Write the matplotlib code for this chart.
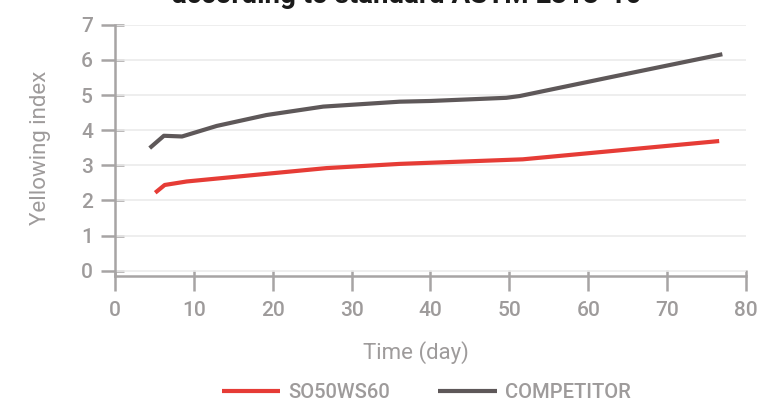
import numpy as np
import matplotlib.pyplot as plt

# valeurs
days_so = [5.1, 6.3, 9.1, 17.9, 26.8, 36.1, 51.7, 76.6]
yi_so = [2.22, 2.44, 2.54, 2.73, 2.92, 3.04, 3.17, 3.69]

days_comp = [4.4, 6.2, 8.5, 12.9, 19.2, 26.4, 36.1, 40.0, 49.6, 51.3, 63.1, 77.0]
yi_comp = [3.49, 3.84, 3.82, 4.12, 4.43, 4.67, 4.81, 4.83, 4.92, 4.97, 5.52, 6.16]

xticks = [0, 10, 20, 30, 40, 50, 60, 70, 80]
yticks = [0, 1, 2, 3, 4, 5, 6, 7]

red = '#E63C36'
dark = '#5E5859'
axis_col = '#A7A4A4'
txt_col = '#9E9B9B'

plt.rcParams['font.family'] = ['Roboto', 'DejaVu Sans']

fig = plt.figure(figsize=(7.61, 4.03), dpi=100)
ax = fig.add_axes([0.1511, 0.3151, 0.8292, 0.6236])

ax.plot(days_so, yi_so, color=red, lw=3, label='SO50WS60', solid_capstyle='butt')
ax.plot(days_comp, yi_comp, color=dark, lw=3, label='COMPETITOR', solid_capstyle='butt')

ax.set_xlim(0, 80)
ax.set_ylim(-0.15, 7)
ax.set_xticks(xticks)
ax.set_yticks(yticks)
ax.yaxis.grid(True, color='#EBEBEB', lw=1.2)
ax.set_axisbelow(True)

for s in ['top', 'right']:
    ax.spines[s].set_visible(False)
for s in ['left', 'bottom']:
    ax.spines[s].set_color(axis_col)
    ax.spines[s].set_linewidth(1.8)

ax.tick_params(axis='x', direction='out', length=11, width=1.8, color=axis_col,
               labelcolor=txt_col, labelsize=15, pad=7)
ax.tick_params(axis='y', direction='out', length=10, width=1.8, color=axis_col,
               labelcolor=txt_col, labelsize=15, pad=6)
for lab in ax.get_xticklabels() + ax.get_yticklabels():
    lab.set_fontweight('medium')

# partie interieure des graduations
sx = ax.secondary_xaxis('bottom')
sx.set_xticks(xticks)
sx.tick_params(direction='in', length=4.5, width=1.8, color=axis_col, labelbottom=False)
sx.spines['bottom'].set_visible(False)
sy = ax.secondary_yaxis('left')
sy.set_yticks(yticks)
sy.tick_params(direction='in', length=6.5, width=1.8, color=axis_col, labelleft=False)
sy.spines['left'].set_visible(False)

fig.text(0.546, 0.125, 'Time (day)', ha='center', va='center', color=txt_col,
         fontsize=16)
fig.text(0.053, 0.633, 'Yellowing index', ha='center', va='center', rotation=90,
         color=txt_col, fontsize=16)

# titre coupe en haut comme sur l'original
fig.text(0.535, 0.993, 'according to standard ASTM E313-10', ha='center', va='baseline',
         fontsize=20, fontweight='bold', color='#1a1a1a')

leg = fig.legend(loc='center', bbox_to_anchor=(0.56, 0.025), ncol=2, frameon=False,
                 fontsize=14.5, handlelength=2.9, handletextpad=0.4, columnspacing=2.4)
for t in leg.get_texts():
    t.set_color(txt_col)
    t.set_fontweight('medium')
for l in leg.get_lines():
    l.set_linewidth(3)

fig.savefig('out.png', dpi=100)
